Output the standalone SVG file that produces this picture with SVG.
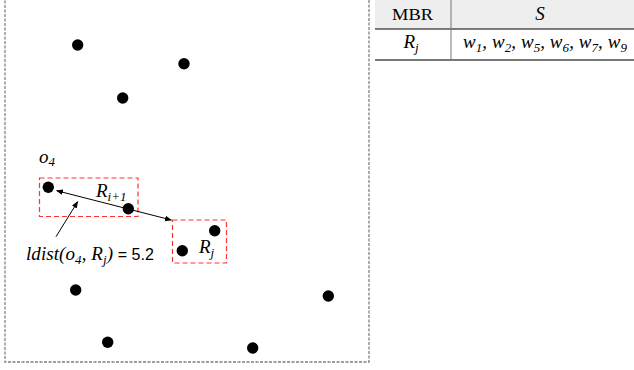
<svg xmlns="http://www.w3.org/2000/svg" width="634" height="370" viewBox="0 0 634 370">
  <style>
    .frame { fill: none; stroke: #808080; stroke-width: 1.3; stroke-dasharray: 3 1.5; }
    .pt { fill: #000; }
    .mbr { fill: none; stroke: #ff3333; stroke-width: 1.2; stroke-dasharray: 5 3; }
    .conn { stroke: #000; stroke-width: 1; fill: none; }
    .math { font-family: "Liberation Serif", "DejaVu Serif", serif; font-style: italic; font-size: 19px; fill: #000; }
    .sub { font-size: 13px; }
    .num { font-family: "Liberation Sans", "DejaVu Sans", sans-serif; font-style: normal; }
    .hdr { font-family: "Liberation Serif", serif; font-size: 17px; fill: #000; }
  </style>
  <defs>
    <marker id="ah" viewBox="0 0 10 10" refX="9" refY="5" markerWidth="7" markerHeight="7" orient="auto-start-reverse" markerUnits="userSpaceOnUse">
      <path d="M0,1 L10,5 L0,9 z" fill="#000"/>
    </marker>
  </defs>
  <rect width="634" height="370" fill="#fff"/>

  <!-- data space -->
  <rect class="frame" x="5" y="-5" width="364" height="367"/>

  <!-- MBRs -->
  <g id="mbr-Ri1">
    <rect class="mbr" x="39.5" y="178" width="98.5" height="38.5"/>
    <text class="math" x="96" y="197">R<tspan class="sub" dy="4">i+1</tspan></text>
  </g>
  <g id="mbr-Rj">
    <rect class="mbr" x="172.5" y="220" width="54" height="43"/>
    <text class="math" x="199" y="253">R<tspan class="sub" dy="4">j</tspan></text>
  </g>

  <!-- points -->
  <g id="points">
    <circle class="pt" cx="77.7" cy="45" r="5.7"/>
    <circle class="pt" cx="184" cy="63.7" r="5.7"/>
    <circle class="pt" cx="122.7" cy="98" r="5.7"/>
    <circle class="pt" cx="48.3" cy="187.3" r="5.7"/>
    <circle class="pt" cx="128.3" cy="208.7" r="5.7"/>
    <circle class="pt" cx="214.7" cy="230.7" r="5.7"/>
    <circle class="pt" cx="182.3" cy="250.7" r="5.7"/>
    <circle class="pt" cx="75.7" cy="290" r="5.7"/>
    <circle class="pt" cx="328.3" cy="296" r="5.7"/>
    <circle class="pt" cx="107.7" cy="342.3" r="5.7"/>
    <circle class="pt" cx="252.7" cy="348" r="5.7"/>
  </g>

  <g id="o4">
    <text class="math" x="39" y="163">o<tspan class="sub" dy="3">4</tspan></text>
  </g>

  <!-- connectors -->
  <g id="connectors">
    <line class="conn" x1="56.7" y1="190.7" x2="171.3" y2="220" marker-start="url(#ah)" marker-end="url(#ah)"/>
    <line class="conn" x1="56" y1="236.7" x2="77.7" y2="201.7" marker-end="url(#ah)"/>
  </g>

  <g id="ldist-label">
    <text class="math" x="26" y="260" textLength="128" lengthAdjust="spacing">ldist(o<tspan class="sub" dy="4">4</tspan><tspan dy="-4">, R</tspan><tspan class="sub" dy="4">j</tspan><tspan dy="-4">)</tspan><tspan class="num" font-size="16"> = 5.2</tspan></text>
  </g>

  <!-- table -->
  <g id="table">
    <rect x="375" y="0" width="259" height="29" fill="#eeeeee"/>
    <line x1="375" y1="29" x2="634" y2="29" stroke="#000" stroke-width="1"/>
    <line x1="375" y1="60" x2="634" y2="60" stroke="#777" stroke-width="2"/>
    <line x1="451" y1="0" x2="451" y2="60" stroke="#777" stroke-width="1"/>
    <text class="hdr" x="392" y="20" textLength="41" lengthAdjust="spacingAndGlyphs">MBR</text>
    <text class="math" x="540" y="20" text-anchor="middle" font-size="18">S</text>
    <text class="math" x="411" y="48" text-anchor="middle" font-size="18">R<tspan class="sub" dy="4">j</tspan></text>
    <text class="math" x="463" y="48" font-size="18" textLength="164" lengthAdjust="spacing">w<tspan class="sub" dy="4">1</tspan><tspan dy="-4">, w</tspan><tspan class="sub" dy="4">2</tspan><tspan dy="-4">, w</tspan><tspan class="sub" dy="4">5</tspan><tspan dy="-4">, w</tspan><tspan class="sub" dy="4">6</tspan><tspan dy="-4">, w</tspan><tspan class="sub" dy="4">7</tspan><tspan dy="-4">, w</tspan><tspan class="sub" dy="4">9</tspan></text>
  </g>
</svg>
